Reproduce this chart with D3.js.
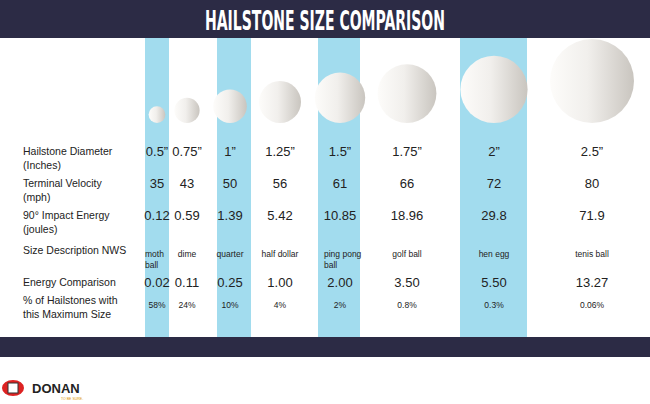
<!DOCTYPE html>
<html><head><meta charset="utf-8">
<script src="https://cdn.jsdelivr.net/npm/d3@7"></script>
<style>body{margin:0;background:#fff}</style></head>
<body><script>
var sizes=[0.5,0.75,1,1.25,1.5,1.75,2,2.5];
var diamLabels=['0.5\u201d','0.75\u201d','1\u201d','1.25\u201d','1.5\u201d','1.75\u201d','2\u201d','2.5\u201d'];
var velocity=['35','43','50','56','61','66','72','80'];
var impact=['0.12','0.59','1.39','5.42','10.85','18.96','29.8','71.9'];
var nws=[['moth','ball'],['dime'],['quarter'],['half dollar'],['ping pong','ball'],['golf ball'],['hen egg'],['tenis ball']];
var energyComp=['0.02','0.11','0.25','1.00','2.00','3.50','5.50','13.27'];
var pct=['58%','24%','10%','4%','2%','0.8%','0.3%','0.06%'];
var rowLabels=[['Hailstone Diameter','(Inches)'],['Terminal Velocity','(mph)'],['90\u00b0 Impact Energy','(joules)'],['Size Description NWS'],['Energy Comparison'],['% of Hailstones with','this Maximum Size']];
var centers=[157,187,230,280,340,407,494,592];
var bands=[[145,169],[217,251],[318,360],[460,527]];
var W=650,H=404;
var svg=d3.select('body').append('svg').attr('width',W).attr('height',H).style('font-family','Liberation Sans, Arial, sans-serif');
var g=svg.append('defs').append('linearGradient').attr('id','hs').attr('x1','0').attr('x2','1').attr('y1','0').attr('y2','0');
g.append('stop').attr('offset','0%').attr('stop-color','#fdfcfa');
g.append('stop').attr('offset','45%').attr('stop-color','#f1efec');
g.append('stop').attr('offset','100%').attr('stop-color','#c9c5bf');
svg.selectAll('rect.band').data(bands).enter().append('rect')
 .attr('x',function(d){return d[0];}).attr('y',38).attr('width',function(d){return d[1]-d[0];}).attr('height',300).attr('fill','#a2dcee');
svg.append('rect').attr('x',0).attr('y',0).attr('width',W).attr('height',38).attr('fill','#2c2b45');
svg.append('text').attr('x',W/2).attr('y',30).attr('text-anchor','middle').attr('fill','#fff')
 .attr('textLength',240).attr('lengthAdjust','spacingAndGlyphs')
 .style('font-family','DejaVu Sans Condensed, Liberation Sans Narrow, sans-serif').style('font-weight','bold').style('font-size','26px').text('HAILSTONE SIZE COMPARISON');
svg.append('rect').attr('x',0).attr('y',337).attr('width',W).attr('height',20).attr('fill','#2c2b45');
var r=d3.scaleLinear().domain([0,2.5]).range([0,42]);
svg.selectAll('circle.h').data(sizes).enter().append('circle')
 .attr('cx',function(d,i){return centers[i];}).attr('cy',function(d){return 123-r(d);}).attr('r',function(d){return r(d);}).attr('fill','url(#hs)');
var rowY=[151,183,215,250,282,300];
svg.selectAll('g.rl').data(rowLabels).enter().append('text').attr('x',23).attr('y',function(d,i){return rowY[i]+4;})
 .attr('font-size','10.5px').attr('fill','#222').each(function(d){
  var t=d3.select(this);d.forEach(function(s,k){t.append('tspan').attr('x',23).attr('dy',k?14:0).text(s);});});
function row(arr,y,fs){
 svg.selectAll(null).data(arr).enter().append('text').attr('x',function(d,i){return centers[i];}).attr('y',y)
  .attr('text-anchor','middle').attr('font-size',fs).attr('fill','#222').text(function(d){return d;});
}
row(diamLabels,156,'13px');row(velocity,188,'13px');row(impact,220,'13px');row(energyComp,287,'13px');row(pct,308,'8.5px');
svg.selectAll(null).data(nws).enter().append('text').attr('y',257).attr('font-size','8.5px').attr('fill','#222')
 .each(function(d,i){var t=d3.select(this);d.forEach(function(s,k){t.append('tspan').attr('x',d.length>1?centers[i]-12-(i==4?4:0):centers[i]).attr('text-anchor',d.length>1?'start':'middle').attr('dy',k?11:0).text(s);});});
// logo
var lg=svg.append('g').attr('transform','translate(3,382)');
lg.append('ellipse').attr('cx',10).attr('cy',6).attr('rx',11).attr('ry',8).attr('fill','#d22');
lg.append('rect').attr('x',5).attr('y',1).attr('width',10).attr('height',10).attr('fill','#fff').attr('stroke','#333');
lg.append('text').attr('x',29).attr('y',11).attr('font-size','13px').attr('font-weight','bold').attr('fill','#222').text('DONAN');
lg.append('text').attr('x',58).attr('y',18).attr('font-size','3.5px').attr('fill','#d90').text('TO BE SURE.');
</script></body></html>
